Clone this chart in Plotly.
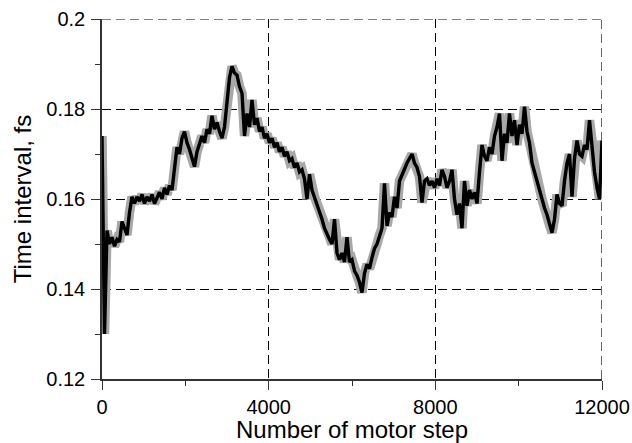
import plotly.graph_objects as go

# Data (motor step vs time interval)
motor_step = list(range(0, 12001, 60))
time_interval = [
    0.1740, 0.1300, 0.1530, 0.1500, 0.1515, 0.1495, 0.1510, 0.1505, 0.1550, 0.1535,
    0.1520, 0.1570, 0.1605, 0.1590, 0.1605, 0.1595, 0.1610, 0.1590, 0.1605, 0.1595,
    0.1610, 0.1590, 0.1605, 0.1615, 0.1600, 0.1625, 0.1610, 0.1630, 0.1620, 0.1665,
    0.1715, 0.1700, 0.1735, 0.1750, 0.1725, 0.1710, 0.1690, 0.1672, 0.1705, 0.1720,
    0.1740, 0.1725, 0.1755, 0.1745, 0.1785, 0.1755, 0.1770, 0.1750, 0.1735, 0.1760,
    0.1820, 0.1870, 0.1895, 0.1880, 0.1875, 0.1850, 0.1835, 0.1740, 0.1790, 0.1760,
    0.1820, 0.1765, 0.1780, 0.1750, 0.1760, 0.1735, 0.1745, 0.1725, 0.1735, 0.1715,
    0.1725, 0.1705, 0.1715, 0.1695, 0.1705, 0.1685, 0.1690, 0.1670, 0.1680, 0.1660,
    0.1665, 0.1645, 0.1600, 0.1655, 0.1620, 0.1605, 0.1590, 0.1575, 0.1555, 0.1535,
    0.1520, 0.1510, 0.1500, 0.1555, 0.1480, 0.1465, 0.1480, 0.1460, 0.1515, 0.1460,
    0.1465, 0.1440, 0.1430, 0.1415, 0.1392, 0.1435, 0.1455, 0.1445, 0.1470, 0.1490,
    0.1500, 0.1520, 0.1535, 0.1635, 0.1540, 0.1570, 0.1560, 0.1605, 0.1580, 0.1640,
    0.1655, 0.1665, 0.1680, 0.1690, 0.1700, 0.1680, 0.1670, 0.1650, 0.1592, 0.1640,
    0.1645, 0.1630, 0.1640, 0.1625, 0.1645, 0.1630, 0.1665, 0.1650, 0.1625, 0.1640,
    0.1665, 0.1600, 0.1565, 0.1590, 0.1535, 0.1640, 0.1585, 0.1620, 0.1600, 0.1615,
    0.1590, 0.1660, 0.1720, 0.1695, 0.1685, 0.1715, 0.1700, 0.1740, 0.1760, 0.1790,
    0.1685, 0.1745, 0.1725, 0.1790, 0.1740, 0.1775, 0.1720, 0.1765, 0.1745, 0.1805,
    0.1750, 0.1725, 0.1680, 0.1660, 0.1640, 0.1615, 0.1600, 0.1580, 0.1565, 0.1545,
    0.1525, 0.1555, 0.1610, 0.1590, 0.1585, 0.1640, 0.1680, 0.1700, 0.1605, 0.1690,
    0.1730, 0.1700, 0.1695, 0.1720, 0.1710, 0.1775, 0.1720, 0.1660, 0.1625, 0.1600,
    0.1730,
]

x_range = [0, 12000]
y_range = [0.12, 0.2]
x_ticks = [0, 4000, 8000, 12000]
x_tick_labels = ["0", "4000", "8000", "12000"]
y_ticks = [0.12, 0.14, 0.16, 0.18, 0.2]
y_tick_labels = ["0.12", "0.14", "0.16", "0.18", "0.2"]

FONT = "Liberation Sans, Arial, Helvetica, sans-serif"
AXIS_COLOR = "#333333"

fig = go.Figure()
fig.add_trace(go.Scatter(x=motor_step, y=time_interval, mode="lines",
                         line=dict(color="#a8a8a8", width=9.5),
                         hoverinfo="skip", showlegend=False))
fig.add_trace(go.Scatter(x=motor_step, y=time_interval, mode="lines",
                         line=dict(color="#000000", width=3.4),
                         showlegend=False))

axis_common = dict(
    showline=True, linecolor=AXIS_COLOR, linewidth=1.5,
    showgrid=True, gridcolor="#000000", gridwidth=1.2, griddash="9px,5px",
    zeroline=False, ticks="outside", ticklen=9, tickwidth=1.3, tickcolor=AXIS_COLOR,
    tickfont=dict(family=FONT, size=20, color="#000000"),
    automargin=False,
)

# Inside halves of the crossing major ticks (overlay axes, no labels)
overlay_common = dict(showline=False, showgrid=False, zeroline=False, ticks="inside",
                      ticklen=9, tickwidth=1.3, tickcolor=AXIS_COLOR,
                      showticklabels=False, automargin=False)

fig.update_layout(
    width=632, height=443,
    margin=dict(l=102, r=30, t=19, b=64),
    paper_bgcolor="white", plot_bgcolor="white",
    font=dict(family=FONT, color="#000000"),
    xaxis=dict(range=x_range, tickvals=x_ticks, ticktext=x_tick_labels,
               title=dict(text="Number of motor step", font=dict(family=FONT, size=24), standoff=4),
               minor=dict(ticks="outside", ticklen=5, tickwidth=1.2, tickcolor=AXIS_COLOR,
                          dtick=2000, tick0=0, showgrid=False),
               **axis_common),
    yaxis=dict(range=y_range, tickvals=y_ticks, ticktext=y_tick_labels,
               title=dict(text="Time interval, fs", font=dict(family=FONT, size=24), standoff=8),
               minor=dict(ticks="outside", ticklen=5, tickwidth=1.2, tickcolor=AXIS_COLOR,
                          dtick=0.01, tick0=0.12, showgrid=False),
               ticklabelstandoff=2,
               **axis_common),
    xaxis2=dict(overlaying="x", range=x_range, tickvals=x_ticks, side="bottom",
                anchor="y", **overlay_common),
    yaxis2=dict(overlaying="y", range=y_range, tickvals=y_ticks, side="left",
                anchor="x", **overlay_common),
)

# Gridlines at the top (0.2) and right (12000) edges, which Plotly omits
fig.add_shape(type="line", xref="x", yref="y", x0=x_range[0], x1=x_range[1],
              y0=y_range[1], y1=y_range[1],
              line=dict(color="#000000", width=1.2, dash="9px,5px"), layer="below")
fig.add_shape(type="line", xref="x", yref="y", x0=x_range[1], x1=x_range[1],
              y0=y_range[0], y1=y_range[1],
              line=dict(color="#000000", width=1.2, dash="9px,5px"), layer="below")

fig.write_html("out.html")
